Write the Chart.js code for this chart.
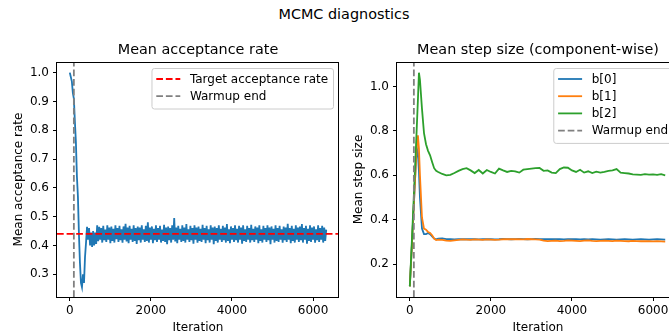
<!DOCTYPE html>
<html><head><meta charset="utf-8">
<script src="https://cdn.jsdelivr.net/npm/chart.js@4/dist/chart.umd.min.js"></script>
<style>
html,body{margin:0;padding:0;background:#fff;overflow:hidden;width:669px;height:336px}
#wrap{position:relative;width:669px;height:336px;overflow:hidden;background:#fff}
canvas{position:absolute;top:0}
#c1{left:0}
#c2{left:340px}
#sup{position:absolute;left:0;top:5px;width:688px;text-align:center;font-family:"DejaVu Sans";font-size:14.4px;line-height:18px;color:#000}
</style></head>
<body><div id="wrap">
<div id="sup">MCMC diagnostics</div>
<canvas id="c1" width="345" height="336"></canvas>
<canvas id="c2" width="345" height="336"></canvas>
</div>
<script>
// ---------- data ----------
const ACC_STEP = 25; // iterations between stored acceptance values
const accValues = [
 1.00,0.985,0.97,0.93,0.91,0.83,0.76,0.64,0.57,0.44,
 0.34,0.27,0.255,0.30,0.27,0.36,0.41,0.465,0.42,0.46,
 0.40,0.445,0.395,0.45,0.40,0.445,0.405,0.47,
 0.415,0.465,0.42,0.46,0.41,0.468,0.418,0.455,0.412,0.47,
 0.42,0.462,0.408,0.466,0.416,0.458,0.41,0.47,0.422,0.46,
 0.412,0.468,0.418,0.456,0.41,0.466,0.42,0.475,0.414,0.462,
 0.408,0.468,0.42,0.458,0.412,0.47,0.416,0.46,0.405,0.466,
 0.418,0.462,0.41,0.47,0.42,0.456,0.412,0.468,0.416,0.48,
 0.41,0.462,0.42,0.466,0.408,0.458,0.418,0.47,0.412,0.46,
 0.42,0.468,0.41,0.455,0.416,0.472,0.412,0.462,0.404,0.466,
 0.418,0.46,0.41,0.47,0.42,0.495,0.414,0.462,0.408,0.468,
 0.42,0.458,0.412,0.47,0.416,0.462,0.41,0.474,0.42,0.456,
 0.412,0.468,0.418,0.46,0.406,0.47,0.42,0.462,0.41,0.466,
 0.416,0.458,0.412,0.472,0.42,0.46,0.408,0.468,0.418,0.456,
 0.41,0.47,0.42,0.462,0.404,0.466,0.416,0.46,0.41,0.47,
 0.42,0.458,0.412,0.468,0.418,0.462,0.41,0.474,0.416,0.456,
 0.408,0.466,0.42,0.46,0.412,0.47,0.418,0.458,0.41,0.468,
 0.42,0.462,0.406,0.47,0.416,0.456,0.412,0.468,0.42,0.46,
 0.41,0.472,0.418,0.458,0.412,0.466,0.42,0.462,0.408,0.47,
 0.416,0.456,0.41,0.468,0.42,0.46,0.412,0.47,0.418,0.462,
 0.404,0.466,0.42,0.458,0.41,0.47,0.416,0.46,0.412,0.468,
 0.42,0.456,0.41,0.466,0.418,0.462,0.412,0.475,0.42,0.46,
 0.408,0.468,0.416,0.458,0.41,0.47,0.42,0.462,0.412,0.466,
 0.418,0.474,0.41,0.46,0.42,0.468,0.406,0.458,0.416,0.47,
 0.412,0.462,0.42,0.466,0.41,0.456,0.418,0.47,0.412,0.46,
 0.42,0.468,0.41,0.462,0.416,0.455
];
const TARGET_RATE = 0.44;
const WARMUP_END = 100;

const stepIter = [0,50,100,150,175,200,225,250,300,350,400,450,500,550,600,650,700,
 800,900,1000,1100,1200,1300,1400,1500,1600,1700,
 1800,1900,2000,2100,2200,2300,2400,2500,2600,2700,
 2800,2900,3000,3100,3200,3300,3400,3500,3600,3700,
 3800,3900,4000,4100,4200,4300,4400,4500,4600,4700,
 4800,4900,5000,5100,5200,5300,5400,5500,5600,5700,
 5800,5900,6000,6100,6200,6300];
const stepB0 = [0.10,0.28,0.47,0.66,0.72,0.70,0.62,0.50,0.36,0.335,0.335,0.34,0.335,0.325,0.315,0.312,0.315,
 0.316,0.313,0.312,0.311,0.312,0.313,0.312,0.313,0.312,0.311,
 0.312,0.313,0.312,0.311,0.312,0.314,0.313,0.312,0.313,0.314,
 0.313,0.312,0.313,0.314,0.313,0.312,0.313,0.312,0.313,0.312,
 0.311,0.312,0.313,0.312,0.311,0.312,0.311,0.312,0.311,0.310,
 0.311,0.312,0.311,0.310,0.311,0.312,0.311,0.310,0.311,0.312,
 0.311,0.310,0.311,0.312,0.311,0.310];
const stepB1 = [0.10,0.28,0.47,0.66,0.74,0.78,0.72,0.60,0.41,0.36,0.355,0.345,0.34,0.33,0.315,0.308,0.31,
 0.309,0.306,0.305,0.307,0.309,0.311,0.310,0.309,0.311,0.310,
 0.309,0.311,0.310,0.309,0.310,0.312,0.313,0.312,0.313,0.312,
 0.311,0.313,0.312,0.311,0.310,0.306,0.304,0.305,0.306,0.304,
 0.305,0.307,0.306,0.305,0.304,0.306,0.307,0.305,0.304,0.305,
 0.306,0.305,0.304,0.306,0.305,0.304,0.303,0.305,0.304,0.303,
 0.304,0.303,0.302,0.303,0.302,0.301];
const stepB2 = [0.10,0.30,0.51,0.72,0.83,0.94,1.062,1.03,0.90,0.79,0.74,0.71,0.69,0.66,0.632,0.62,0.615,
 0.606,0.600,0.602,0.610,0.620,0.628,0.632,0.622,0.610,0.624,
 0.608,0.624,0.615,0.608,0.630,0.622,0.615,0.620,0.618,0.612,
 0.625,0.628,0.630,0.632,0.633,0.620,0.622,0.612,0.610,0.628,
 0.635,0.634,0.622,0.615,0.625,0.612,0.618,0.610,0.616,0.612,
 0.615,0.620,0.622,0.628,0.612,0.610,0.608,0.604,0.603,0.602,
 0.605,0.603,0.604,0.602,0.605,0.600];

const xTicks = [0,2000,4000,6000];
const accTicks = [0.3,0.4,0.5,0.6,0.7,0.8,0.9,1.0];
const stepTicks = [0.2,0.4,0.6,0.8,1.0];

// axis limits
const X_MIN = -316, X_MAX = 6640;
const ACC_Y_MIN = 0.221, ACC_Y_MAX = 1.037;
const STEP_Y_MIN = 0.052, STEP_Y_MAX = 1.110;

// ---------- styling ----------
const FONT = "DejaVu Sans";
const C_BLUE = '#1f77b4', C_ORANGE = '#ff7f0e', C_GREEN = '#2ca02c';
const DASH = [6.7, 2.9];
const LW = 1.8;

const decor = {
  id: 'decor',
  afterDatasetsDraw(chart, args, o) {
    const ctx = chart.ctx, a = chart.chartArea;
    ctx.save();
    // frame
    ctx.strokeStyle = '#000'; ctx.lineWidth = 1;
    ctx.strokeRect(Math.round(a.left) + 0.5 - 1, Math.round(a.top) + 0.5, Math.round(a.right - a.left), Math.round(a.bottom - a.top));
    // legend
    const items = chart.data.datasets.filter(d => d.legendLabel);
    ctx.font = '12px "' + FONT + '"';
    let tw = 0;
    items.forEach(d => { tw = Math.max(tw, ctx.measureText(d.legendLabel).width); });
    const pad = 4.8, hl = 24, hp = 9.6, pitch = 17.2;
    const w = pad + hl + hp + tw + pad;
    const h = 2 * pad + items.length * pitch - 3.5;
    const bx = a.right - 6 - w, by = a.top + 6;
    ctx.beginPath();
    if (ctx.roundRect) ctx.roundRect(bx + 0.5, by + 0.5, w, h, 2.5); else ctx.rect(bx + 0.5, by + 0.5, w, h);
    ctx.fillStyle = 'rgba(255,255,255,0.8)'; ctx.fill();
    ctx.strokeStyle = '#cccccc'; ctx.lineWidth = 1; ctx.stroke();
    items.forEach((d, i) => {
      const y = by + 11 + i * pitch;
      ctx.beginPath();
      ctx.setLineDash(d.borderDash || []);
      ctx.strokeStyle = d.borderColor; ctx.lineWidth = d.borderWidth;
      ctx.moveTo(bx + pad, y); ctx.lineTo(bx + pad + hl, y); ctx.stroke();
      ctx.setLineDash([]);
      ctx.fillStyle = '#000'; ctx.textAlign = 'left'; ctx.textBaseline = 'middle';
      ctx.fillText(d.legendLabel, bx + pad + hl + hp, y + 0.5);
    });
    // titles
    const cx = (a.left + a.right) / 2;
    ctx.fillStyle = '#000';
    ctx.font = '14.4px "' + FONT + '"'; ctx.textAlign = 'center'; ctx.textBaseline = 'alphabetic';
    ctx.fillText(o.title, cx, 54);
    ctx.font = '12px "' + FONT + '"';
    ctx.fillText(o.xLabel, cx, 331);
    ctx.save();
    ctx.translate(19, (a.top + a.bottom) / 2);
    ctx.rotate(-Math.PI / 2);
    ctx.textBaseline = 'middle';
    ctx.fillText(o.yLabel, 0, 0);
    ctx.restore();
    ctx.restore();
  }
};

function axisCommon(extra) {
  return Object.assign({
    type: 'linear',
    grid: { display: true, drawOnChartArea: false, drawTicks: true, tickLength: 4, tickWidth: 1, tickColor: '#000' },
    border: { display: false },
  }, extra);
}

function makeChart(id, datasets, yMin, yMax, yTicks, title, yLabel) {
  return new Chart(document.getElementById(id), {
    type: 'line',
    data: { datasets },
    options: {
      responsive: false, animation: false, devicePixelRatio: 1, events: [],
      layout: { padding: { left: 0, right: 6, top: 62, bottom: 0 } },
      elements: { point: { radius: 0 }, line: { tension: 0 } },
      plugins: { legend: { display: false }, tooltip: { enabled: false }, title: { display: false },
        decor: { title, xLabel: 'Iteration', yLabel } },
      scales: {
        x: axisCommon({
          min: X_MIN, max: X_MAX,
          afterBuildTicks: s => { s.ticks = xTicks.map(v => ({ value: v })); },
          afterFit: s => { s.height = 39; },
          ticks: { color: '#000', font: { family: FONT, size: 12 }, padding: 3, maxRotation: 0, autoSkip: false, callback: v => String(v) }
        }),
        y: axisCommon({
          min: yMin, max: yMax,
          afterBuildTicks: s => { s.ticks = yTicks.map(v => ({ value: v })); },
          afterFit: s => { s.width = 57; },
          ticks: { color: '#000', font: { family: FONT, size: 12 }, padding: 4, autoSkip: false, callback: v => v.toFixed(1) }
        })
      }
    },
    plugins: [decor]
  });
}

const accPoints = accValues.map((v, i) => ({ x: i * ACC_STEP, y: v }));
makeChart('c1', [
  { data: accPoints, borderColor: C_BLUE, borderWidth: LW, order: 3 },
  { data: [{ x: X_MIN, y: TARGET_RATE }, { x: X_MAX, y: TARGET_RATE }], borderColor: '#ff0000', borderWidth: LW, borderDash: DASH, order: 2, legendLabel: 'Target acceptance rate' },
  { data: [{ x: WARMUP_END, y: ACC_Y_MIN }, { x: WARMUP_END, y: ACC_Y_MAX }], borderColor: '#808080', borderWidth: LW, borderDash: DASH, order: 1, legendLabel: 'Warmup end' }
], ACC_Y_MIN, ACC_Y_MAX, accTicks, 'Mean acceptance rate', 'Mean acceptance rate');

const pts = arr => arr.map((v, i) => ({ x: stepIter[i], y: v }));
makeChart('c2', [
  { data: pts(stepB0), borderColor: C_BLUE, borderWidth: LW, order: 6, legendLabel: 'b[0]' },
  { data: pts(stepB1), borderColor: C_ORANGE, borderWidth: LW, order: 5, legendLabel: 'b[1]' },
  { data: pts(stepB2), borderColor: C_GREEN, borderWidth: LW, order: 4, legendLabel: 'b[2]' },
  { data: [{ x: WARMUP_END, y: STEP_Y_MIN }, { x: WARMUP_END, y: STEP_Y_MAX }], borderColor: '#808080', borderWidth: LW, borderDash: DASH, order: 1, legendLabel: 'Warmup end' }
], STEP_Y_MIN, STEP_Y_MAX, stepTicks, 'Mean step size (component-wise)', 'Mean step size');
</script>
</body></html>
